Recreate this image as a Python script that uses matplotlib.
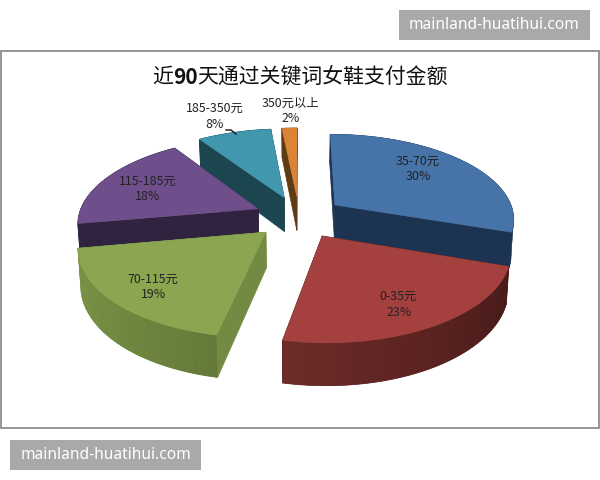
import matplotlib
matplotlib.use("Agg")
import matplotlib.pyplot as plt
from matplotlib.colors import to_rgb
from matplotlib.patches import Rectangle
import numpy as np

plt.rcParams["font.family"] = ["Noto Sans CJK SC", "DejaVu Sans"]

# slices run clockwise from 12 o'clock
ranges = ["35-70元", "0-35元", "70-115元", "115-185元", "185-350元", "350元以上"]
shares = [30.2, 23.0, 19.0, 18.4, 7.8, 1.6]  # labels show these rounded

top_colors = ["#4674A8", "#A4403E", "#8AA650", "#6E4F8C", "#4097AE", "#DB8438"]
face_colors = ["#1D3352", "#4A1C1A", "#738A42", "#2F2340", "#1B4650", "#5E3B15"]
arc_from = ["#1D3352", "#451A18", "#657A3A", "#2F2340", "#1B4650", "#5E3B15"]
arc_to = ["#1D3352", "#6E2B29", "#7E9848", "#2F2340", "#1B4650", "#5E3B15"]
draw_order = [5, 4, 0, 3, 2, 1]

label_pos = [(418, 161), (398, 296), (153, 279), (148, 181), (215, 108), (290, 103)]
pct_pos = [(418, 177), (399, 312), (153, 295), (148, 197), (215, 125), (291, 119)]

# pie geometry, in pixels
CX, CY = 299, 217
R = 180
EXPLODE = 45
DEPTH = 35
TILT = 0.47
PERSP = 0.15
SHRINK = 0.00035  # bottom rim is a little narrower than the top


def project(x, y, z=0.0):
    k = 1 / (1 + PERSP * y / R)
    return CX + x * k * (1 + z * SHRINK), CY - TILT * y * k - z * k


def draw_slice(ax, a0, a1, i):
    mid = (a0 + a1) / 2
    ox, oy = EXPLODE * np.sin(mid), EXPLODE * np.cos(mid)
    ang = np.linspace(a0, a1, 40)
    wx = ox + R * np.sin(ang)
    wy = oy + R * np.cos(ang)
    tx, ty = project(wx, wy)
    bx, by = project(wx, wy, -DEPTH)
    ax_t, ay_t = project(ox, oy)
    ax_b, ay_b = project(ox, oy, -DEPTH)

    # straight cut faces
    for j in (0, -1):
        ax.fill([ax_t, tx[j], bx[j], ax_b], [ay_t, ty[j], by[j], ay_b],
                color=face_colors[i], lw=0.5, zorder=1)
    # outer wall: solid base first so no seams show, then shaded bands
    c0, c1 = np.array(to_rgb(arc_from[i])), np.array(to_rgb(arc_to[i]))
    ax.fill(np.r_[tx, bx[::-1]], np.r_[ty, by[::-1]], color=(c0 + c1) / 2, lw=0.5, zorder=1)
    for j in range(len(ang) - 1):
        c = c0 + (c1 - c0) * j / (len(ang) - 2)
        ax.fill([tx[j], tx[j + 1], bx[j + 1], bx[j]], [ty[j], ty[j + 1], by[j + 1], by[j]],
                color=c, lw=0, zorder=1)
    ax.fill(np.r_[ax_t, tx], np.r_[ay_t, ty], color=top_colors[i], lw=0.3, zorder=1)


fig = plt.figure(figsize=(6, 4.8), dpi=100)
ax = fig.add_axes([0, 0, 1, 1])
ax.set_xlim(0, 600)
ax.set_ylim(480, 0)
ax.axis("off")

ax.add_patch(Rectangle((1, 51), 598, 377, fc="white", ec="#8C8C8C", lw=1.3))

edges = np.r_[0, np.cumsum(shares)] / sum(shares) * 2 * np.pi
for i in draw_order:
    draw_slice(ax, edges[i], edges[i + 1], i)

for i, name in enumerate(ranges):
    ax.text(*label_pos[i], name, ha="center", va="center", fontsize=8.9, color="#222222", zorder=3)
    ax.text(*pct_pos[i], f"{shares[i]:.0f}%", ha="center", va="center", fontsize=8.9, color="#222222", zorder=3)

# leader line for the 8% label
ax.plot([226, 231, 236], [130, 130, 134], color="#111111", lw=1, zorder=3)

# title has a bold number in it, so three pieces
fig.canvas.draw()
rend = fig.canvas.get_renderer()
pieces = [("近", "normal"), ("90", "bold"), ("天通过关键词女鞋支付金额", "normal")]
x = 152
for s, w in pieces:
    t = ax.text(x, 77, s, fontsize=15, fontweight=w, ha="left", va="center", color="#111111", zorder=3)
    x += t.get_window_extent(rend).width

# watermarks
for bx, by in [(399, 10), (10, 440)]:
    ax.add_patch(Rectangle((bx, by), 191, 30, fc="#A9A9A9", ec="none", zorder=4))
    ax.text(bx + 95.5, by + 15, "mainland-huatihui.com", ha="center", va="center",
            fontsize=11.2, color="white", family="Noto Sans", zorder=5)

fig.savefig("out.png", dpi=100)
